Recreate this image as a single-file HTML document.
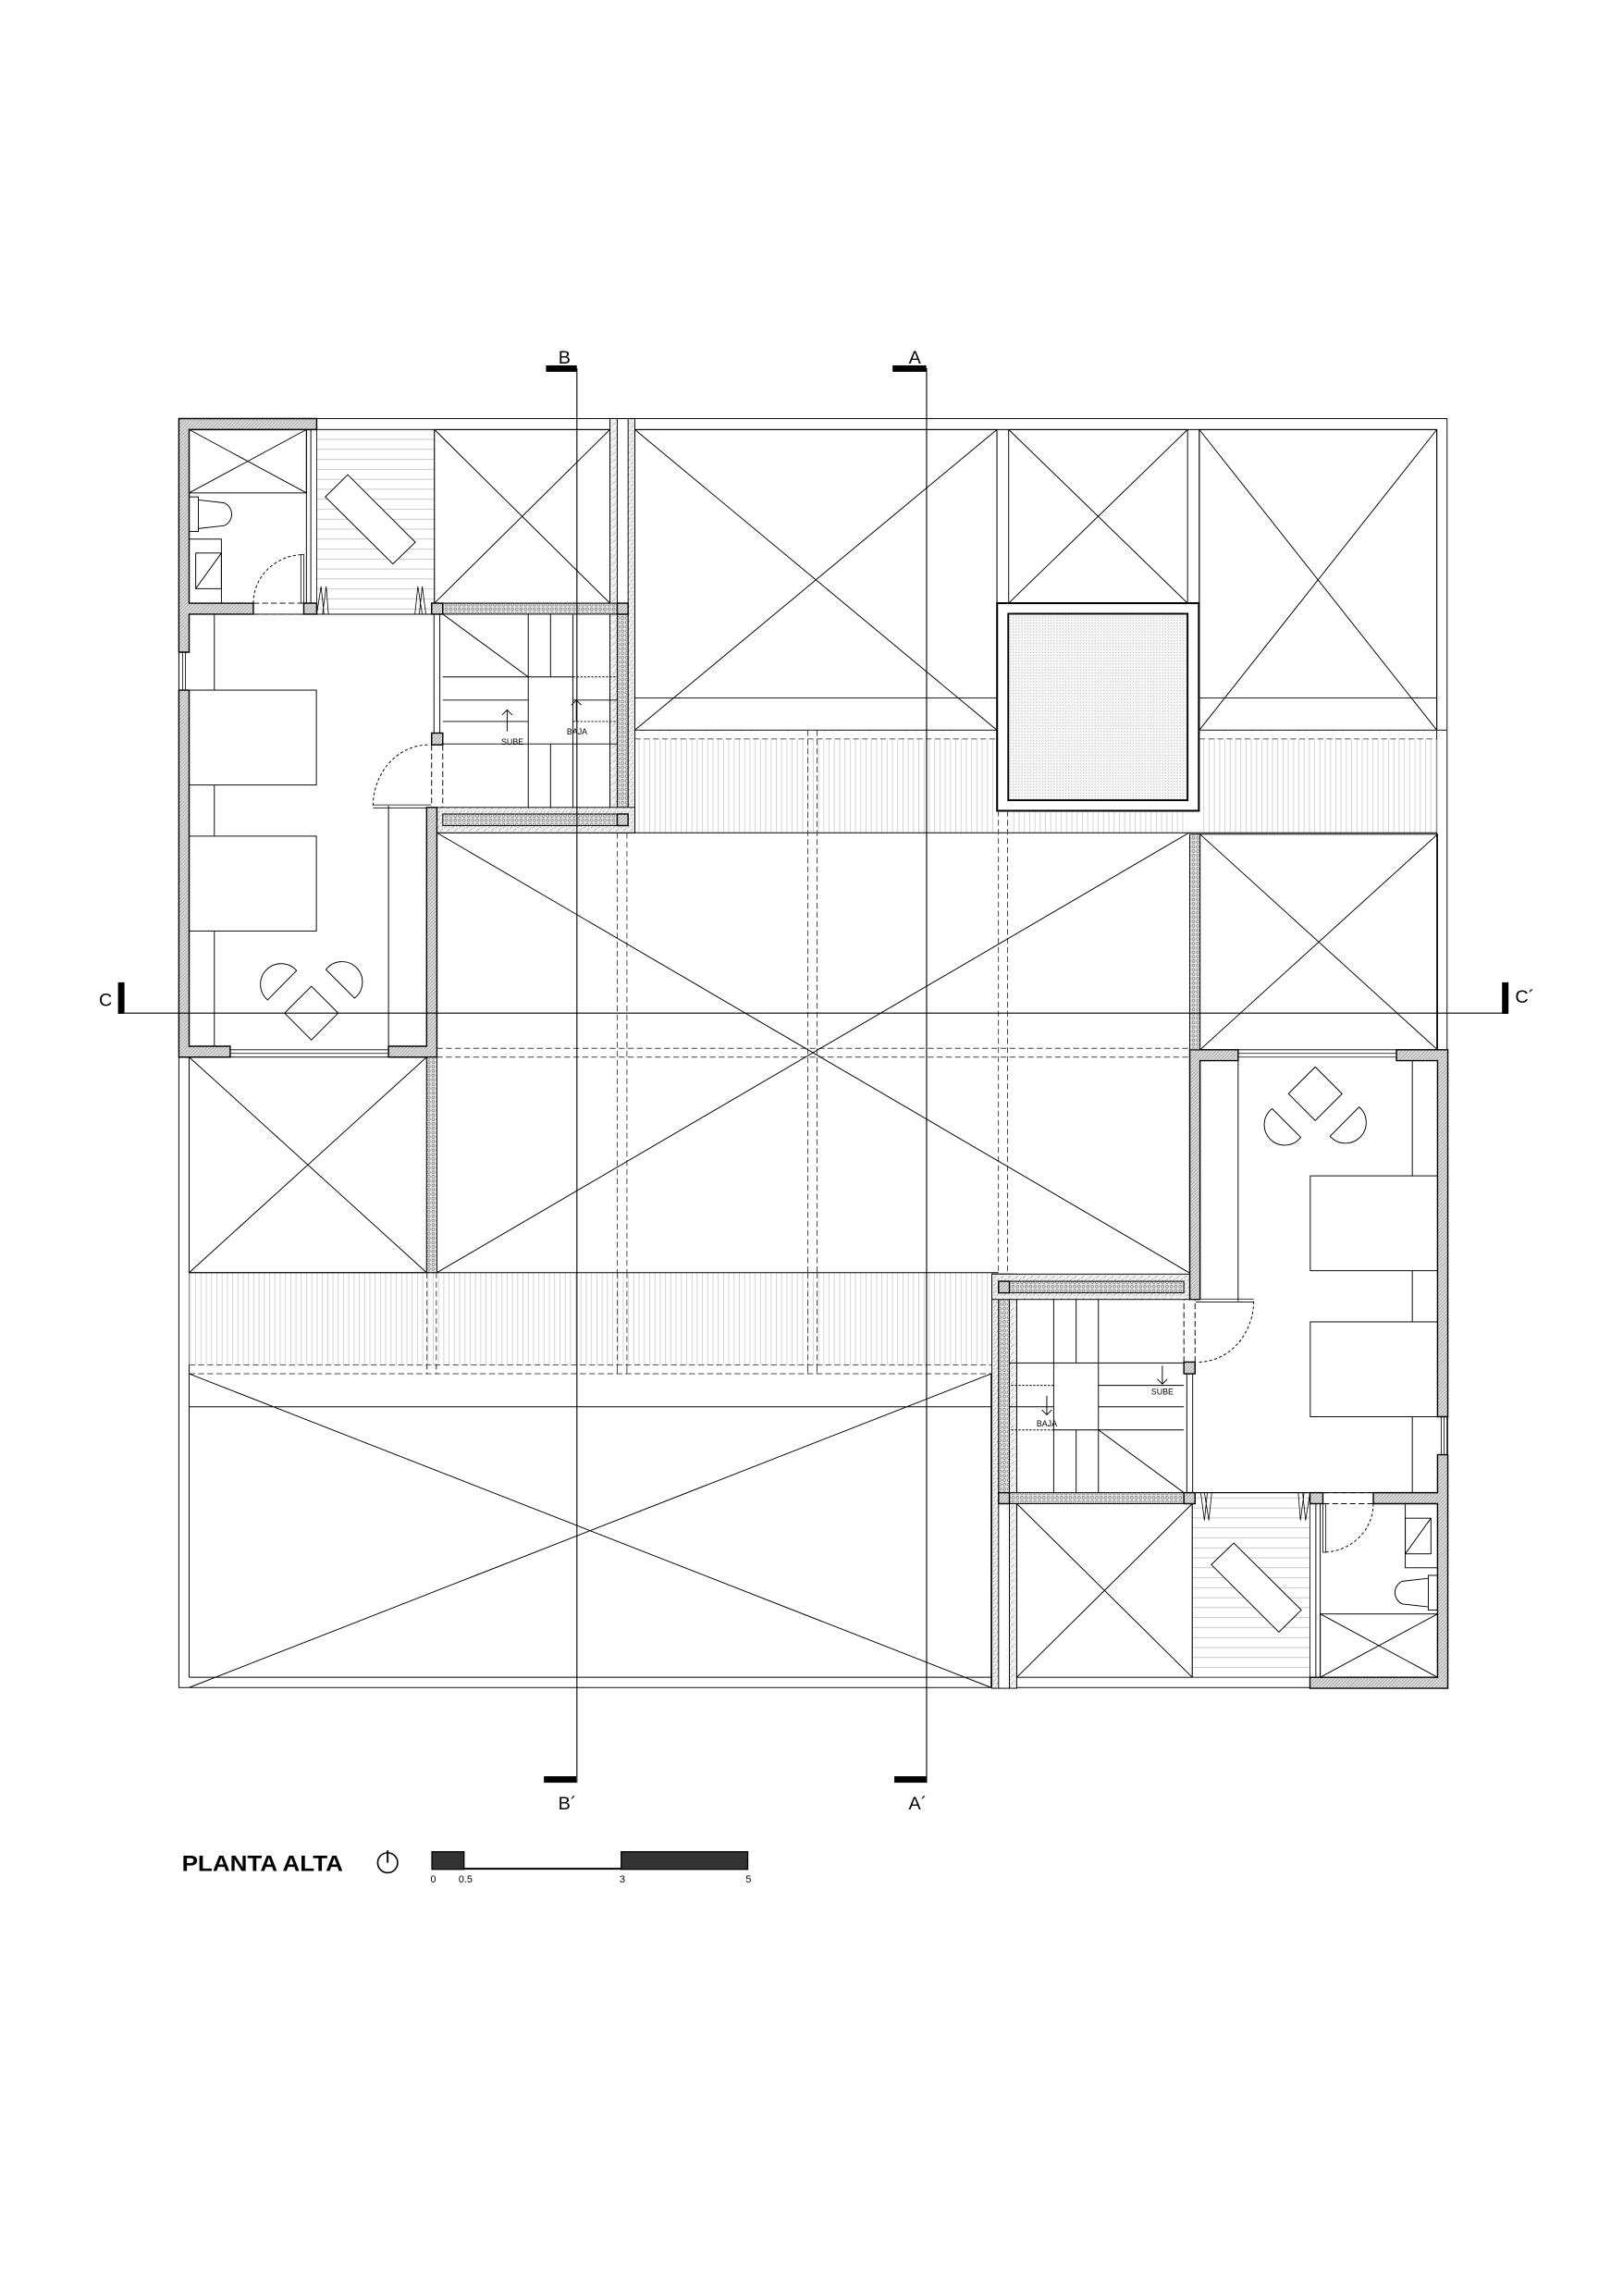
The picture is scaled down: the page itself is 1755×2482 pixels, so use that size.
<!DOCTYPE html>
<html><head><meta charset="utf-8"><style>html,body{margin:0;padding:0;background:#fff}svg{display:block}</style></head>
<body>
<svg width="1755" height="2482" viewBox="0 0 1107 1566" preserveAspectRatio="none" xmlns="http://www.w3.org/2000/svg" font-family="'Liberation Sans', sans-serif">
<defs>
<pattern id="wh" patternUnits="userSpaceOnUse" width="1.6" height="1.6" patternTransform="rotate(45)">
<rect width="1.6" height="1.6" fill="#dadada"/><line x1="0" y1="0" x2="0" y2="1.6" stroke="#888" stroke-width="0.6"/></pattern>
<pattern id="st" patternUnits="userSpaceOnUse" width="3" height="3">
<rect width="3" height="3" fill="#e4e4e4"/><circle cx="1.5" cy="1.5" r="0.9" fill="none" stroke="#777" stroke-width="0.4"/></pattern>
<pattern id="st2" patternUnits="userSpaceOnUse" width="5" height="5">
<rect width="5" height="5" fill="#f0f0f0"/><path d="M0 2 L2 0 M3 5 L5 3 M1 4 L2 3" stroke="#999" stroke-width="0.35"/></pattern>
<pattern id="vb" patternUnits="userSpaceOnUse" width="3.6" height="10">
<rect width="3.6" height="10" fill="#fff"/><line x1="0.3" y1="0" x2="0.3" y2="10" stroke="#c4c4c4" stroke-width="0.45"/></pattern>
<pattern id="hb" patternUnits="userSpaceOnUse" width="10" height="6.8">
<rect width="10" height="6.8" fill="#fff"/><line x1="0" y1="0.5" x2="10" y2="0.5" stroke="#bbb" stroke-width="0.5"/></pattern>
<pattern id="sk" patternUnits="userSpaceOnUse" width="2" height="2">
<rect width="2" height="2" fill="#f6f6f6"/><circle cx="1" cy="1" r="0.35" fill="#bbb"/></pattern>

<g id="wing" fill="none" stroke="#000" stroke-width="0.6">
  <rect x="129" y="293" width="80" height="43.2"/>
  <path d="M129 293 L209 336.2 M209 293 L129 336.2"/>
  <line x1="209" y1="293" x2="209" y2="411.4"/><line x1="212" y1="293" x2="212" y2="411.4"/>
  <rect x="129" y="338.9" width="6.3" height="23.6"/>
  <path d="M135.3 341 L153 343 A8.5 8.5 0 0 1 153 358.5 L135.3 360.5"/>
  <rect x="129" y="367.7" width="22" height="43.7"/>
  <rect x="133.5" y="377.2" width="17.5" height="24.3"/><line x1="133.5" y1="401.5" x2="151" y2="377.2"/>
  <path d="M172.8 411.4 A34.4 33 0 0 1 207.2 378.3" stroke-dasharray="2,1.5"/>
  <rect x="205.2" y="378.3" width="2" height="33" stroke-width="0.5"/>
  <path d="M172.8 411.4 H207 M172.8 418.9 H207" stroke-dasharray="4,2"/>
  <rect x="216" y="293" width="80.3" height="125.9" fill="url(#hb)" stroke-width="0.5"/>
  <polygon points="237.2,323.8 283.3,369.8 268,384.6 221.9,338.9" fill="#fff"/>
  <path d="M216 418.9 L219 400 L221 418.9 M220 418.9 L222.5 400 L224 418.9 M283 418.9 L285 400 L288 418.9 M286 418.9 L288 400 L290.5 418.9" stroke-width="0.5"/>
  <line x1="216" y1="418.9" x2="294.4" y2="418.9"/>
  <rect x="296.3" y="293" width="119.7" height="118.4"/>
  <path d="M296.3 293 L416 411.4 M416 293 L296.3 411.4"/>
  <rect x="416" y="285.5" width="17" height="282.5" fill="url(#st2)"/>
  <rect x="421" y="285.5" width="7.4" height="282.5" fill="#fff"/>
  <rect x="421" y="418.9" width="7.4" height="136.3" fill="url(#st)"/>
  <rect x="302" y="411.4" width="119" height="7.5" fill="url(#st)"/>
  <rect x="298" y="550.7" width="135" height="17.3" fill="url(#st2)"/>
  <rect x="302" y="555.2" width="119" height="7.9" fill="url(#st)"/>
  <path d="M302 418.9 L360.3 461.7"/>
  <path d="M360.3 418.9 V550.7 M375.5 418.9 V461.7 M375.5 507.4 V550.7 M390.8 418.9 V550.7"/>
  <path d="M302 461.7 H360.3 M302 477.5 H360.3 M302 492.1 H360.3 M302 507.4 H421 M360.3 461.7 H390.8"/>
  <path d="M390.8 461.7 H421 M390.8 492.1 H421" stroke-dasharray="1.5,1"/>
  <line x1="390.8" y1="477.5" x2="421" y2="477.5"/>
  <line x1="296" y1="418.9" x2="296" y2="500"/><line x1="300" y1="418.9" x2="300" y2="500"/>
  <path d="M294.4 508 V550.7 M302 508 V550.7" stroke-dasharray="4,2"/>
  <path d="M291.6 508 A38 42 0 0 0 254.4 549.6" stroke-dasharray="2,1.5"/>
  <path d="M254.4 549 H294 M254.4 551 H294" stroke-width="0.5"/>
  <line x1="129" y1="418.9" x2="294.4" y2="418.9"/>
  <rect x="129" y="470.7" width="86.8" height="64.7"/>
  <rect x="129" y="570.3" width="86.8" height="64.7"/>
  <path d="M146.2 418.9 V470.7 M146.2 535.4 V570.3 M146.2 635 V713.6 M265 549.6 V713.6"/>
  <path d="M202.3 662 L182.5 682 A14.1 14.1 0 1 1 202.3 662 Z"/>
  <path d="M222.3 661.3 L241.8 680.8 A13.9 13.9 0 1 0 222.3 661.3 Z"/>
  <polygon points="212.4,672.7 230.7,691 212.4,709.3 194.1,691"/>
  <path d="M122 444.8 V470.7 M124.5 444.8 V470.7 M126.5 444.8 V470.7" stroke-width="0.5"/>
  <path d="M157 716 H265 M157 718.5 H265" stroke-width="0.5"/>
  <g fill="url(#wh)" stroke-width="0.9">
    <polygon points="122,285.5 216,285.5 216,293 129,293 129,411.4 172.8,411.4 172.8,418.9 129,418.9 129,444.8 122,444.8"/>
    <polygon points="122,470.7 129,470.7 129,713.6 157,713.6 157,721 122,721"/>
    <polygon points="291,550.7 298,550.7 298,721 265,721 265,713.6 291,713.6"/>
    <rect x="207.2" y="411.4" width="8.8" height="7.5"/>
    <rect x="294.4" y="411.4" width="7.6" height="7.5"/>
    <rect x="294.4" y="500" width="7.6" height="8"/>
    <rect x="421" y="411.4" width="7.4" height="7.5"/>
    <rect x="421" y="555.2" width="7.4" height="7.9"/>
  </g>
  <rect x="129" y="721" width="162" height="147"/>
  <path d="M129 721 L291 868 M291 721 L129 868"/>
  <rect x="291" y="721" width="7" height="147" fill="url(#st)"/>
</g>
</defs>

<rect width="1107" height="1566" fill="#fff"/>

<g fill="none" stroke="#000" stroke-width="0.6">
  <rect x="122" y="285.5" width="865" height="865.5"/>
  <line x1="216" y1="293" x2="980" y2="293"/>
  <line x1="980" y1="293" x2="980" y2="715"/>
  <line x1="129" y1="721" x2="129" y2="1144"/>
  <line x1="129" y1="1144" x2="676" y2="1144"/>
  <line x1="980" y1="498" x2="987" y2="498"/>

  <rect x="433" y="504" width="247" height="64" fill="url(#vb)" stroke="none"/>
  <rect x="818" y="504" width="162" height="64" fill="url(#vb)" stroke="none"/>
  <rect x="688" y="553" width="122" height="15" fill="url(#vb)" stroke="none"/>
  <line x1="433" y1="568" x2="980" y2="568"/>

  <rect x="433" y="293" width="247" height="205"/>
  <path d="M433 293 L680 498 M680 293 L433 498 M433 476 H680"/>
  <rect x="688" y="293" width="122" height="118.4"/>
  <path d="M688 293 L810 411.4 M810 293 L688 411.4"/>
  <rect x="818" y="293" width="162" height="205"/>
  <path d="M818 293 L980 498 M980 293 L818 498 M818 476 H980"/>
  <line x1="680" y1="293" x2="680" y2="411"/><line x1="818" y1="293" x2="818" y2="411"/>

  <rect x="680.1" y="411.4" width="137.6" height="141.6" fill="#fff" stroke-width="1.3"/>
  <rect x="687.7" y="418.6" width="122.3" height="127.2" fill="url(#sk)" stroke-width="1.2"/>

  <g stroke="#444" stroke-dasharray="4,2.2">
    <path d="M433 498 H680 M433 504 H680 M818 498 H987 M818 504 H980"/>
    <path d="M298 715 H811 M298 721 H811"/>
    <path d="M129 931 H681 M129 937 H681"/>
    <path d="M421 568 V937 M427.6 568 V937"/>
    <path d="M551 498 V937 M557.3 498 V937"/>
    <path d="M681 553 V868 M687.2 553 V868"/>
    <path d="M291.2 868 V937 M297.6 868 V937"/>
  </g>

  <path d="M298 568 L811 868 M811 568 L298 868"/>
  <line x1="298" y1="568" x2="433" y2="568"/>

  <rect x="129" y="868" width="552" height="63" fill="url(#vb)" stroke="none"/>
  <line x1="129" y1="868" x2="681" y2="868"/>
  <g stroke="#444" stroke-dasharray="4,2.2"><path d="M129 931 H681 M129 937 H681 M421 868 V937 M427.6 868 V937 M551 868 V937 M557.3 868 V937 M291.2 868 V937 M297.6 868 V937"/></g>

  <path d="M129 937 L676 1151 M676 937 L129 1151 M129 959.5 H676"/>
  <line x1="676" y1="937" x2="676" y2="1151"/>
</g>

<use href="#wing"/>
<use href="#wing" transform="translate(1109.5 1437) rotate(180)"/>

<g stroke="#000" stroke-width="0.6" fill="none">
  <path d="M345.9 498.9 V484.2 M342.5 487.6 L345.9 484.2 L349.3 487.6"/>
  <path d="M393.1 492.1 V477.5 M389.7 480.9 L393.1 477.5 L396.5 480.9"/>
  <path d="M792.8 931.5 V944 M789.4 940.6 L792.8 944 L796.2 940.6"/>
  <path d="M714 952 V965 M710.6 961.6 L714 965 L717.4 961.6"/>
</g>
<g font-size="5.6" fill="#000" text-anchor="middle">
  <text x="349.5" y="508">SUBE</text>
  <text x="393.6" y="501">BAJA</text>
  <text x="792.8" y="951">SUBE</text>
  <text x="714" y="973">BAJA</text>
</g>

<g stroke="#000" stroke-width="0.7">
  <line x1="393.5" y1="251" x2="393.5" y2="1216"/>
  <line x1="632" y1="251" x2="632" y2="1216"/>
  <line x1="85" y1="691" x2="1027" y2="691"/>
</g>
<g fill="#000">
  <rect x="372.4" y="249.2" width="21" height="4.4"/>
  <rect x="608.8" y="249.2" width="23" height="4.4"/>
  <rect x="371" y="1211.5" width="22" height="4.4"/>
  <rect x="610" y="1211.5" width="22" height="4.4"/>
  <rect x="80.5" y="670" width="4.4" height="21.5"/>
  <rect x="1024.5" y="670" width="4.4" height="21.5"/>
</g>
<g font-size="12.5" fill="#000" text-anchor="middle">
  <text x="385" y="248">B</text>
  <text x="624" y="248">A</text>
  <text x="387" y="1234">B´</text>
  <text x="626" y="1234">A´</text>
  <text x="72" y="686">C</text>
  <text x="1040" y="684">C´</text>
</g>

<text x="124" y="1276" font-size="15.3" font-weight="bold" fill="#000" textLength="110" lengthAdjust="spacingAndGlyphs">PLANTA ALTA</text>
<g stroke="#000" fill="none">
  <circle cx="264.4" cy="1270.5" r="6.8" stroke-width="1"/>
  <line x1="264.4" y1="1270.5" x2="264.4" y2="1262" stroke-width="1.2"/>
</g>
<g stroke="#000" stroke-width="0.8">
  <rect x="294.6" y="1263" width="21.9" height="12" fill="#333"/>
  <rect x="423.7" y="1263" width="86.3" height="12" fill="#333"/>
</g>
<line x1="316.5" y1="1274.6" x2="423.7" y2="1274.6" stroke="#000" stroke-width="1.3"/>
<g font-size="6.8" fill="#000" text-anchor="middle">
  <text x="295.5" y="1284">0</text>
  <text x="317.5" y="1284">0.5</text>
  <text x="424.5" y="1284">3</text>
  <text x="510.5" y="1284">5</text>
</g>
</svg>
</body></html>
